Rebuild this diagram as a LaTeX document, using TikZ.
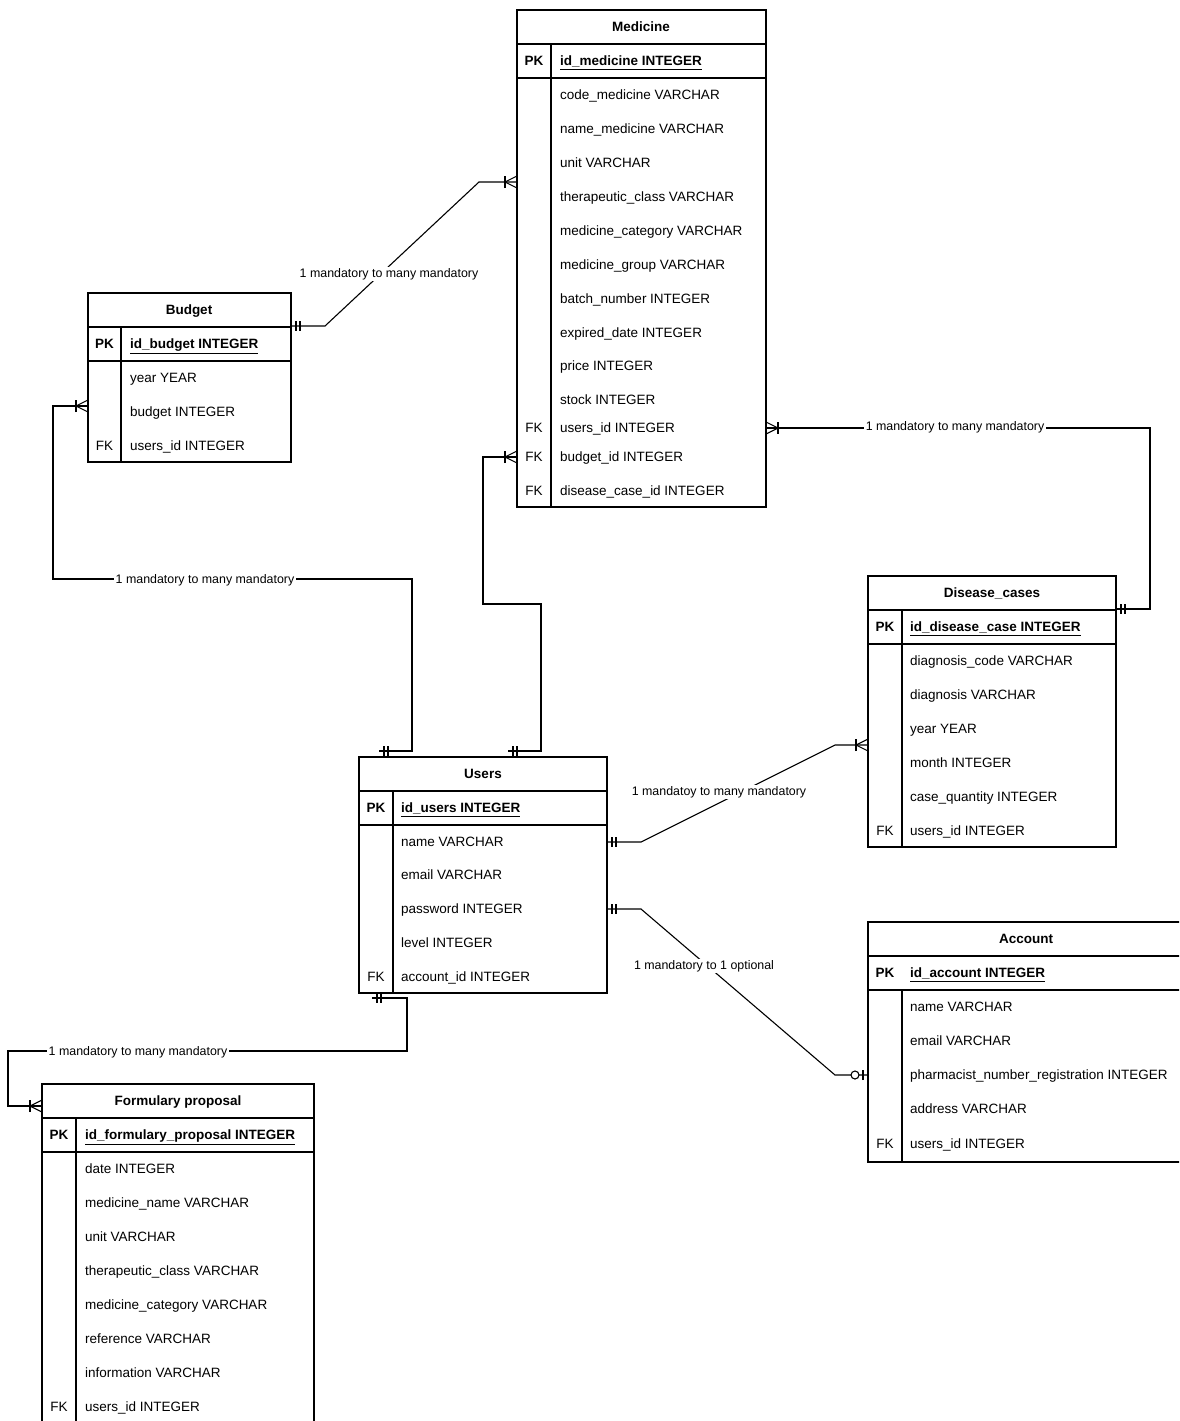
\documentclass[tikz,border=0pt]{standalone}
\usepackage{fontspec}
\setmainfont{Liberation Sans}
\usetikzlibrary{calc}
\begin{document}
\begin{tikzpicture}[x=1pt,y=-1pt,
  tbl/.style={draw, line width=1.2pt, anchor=north west, inner sep=0pt, outer sep=0pt},
  sepl/.style={line width=1.2pt},
  txt/.style={anchor=west, inner sep=0pt, text height=9.7pt, text depth=0pt, font=\fontsize{13.5}{16}\selectfont},
  ttl/.style={anchor=center, inner sep=0pt, text height=9.7pt, text depth=0pt, font=\fontsize{13.5}{16}\selectfont\bfseries},
  keyt/.style={anchor=center, inner sep=0pt, text height=9.7pt, text depth=0pt, font=\fontsize{13.5}{16}\selectfont},
  lbl/.style={fill=white, inner sep=1.5pt, font=\fontsize{12.4}{14}\selectfont},
  conn/.style={line width=1.1pt},
  crow/.pic={\draw[conn] (0,-6) -- (12,0) -- (0,6); \draw[conn] (12,-6) -- (12,6);},
  onem/.pic={\draw[conn] (5,-5) -- (5,5) (9,-5) -- (9,5);},
  zone/.pic={\draw[conn] (5,-5) -- (5,5); \draw[conn,fill=white] (13,0) circle[radius=4pt];}
]
\fill[white] (0,0) rectangle (1179,1421);
\useasboundingbox (0,0) rectangle (1179,1421);
\clip (0,0) rectangle (1179,1421);

% ---------- Medicine ----------
\node[tbl, minimum width=249pt, minimum height=497pt] (med) at (517,10) {};
\draw[sepl] (med.west |- 0,44) -- (med.east |- 0,44);
\draw[sepl] (med.west |- 0,78) -- (med.east |- 0,78);
\draw[sepl] (551,44) -- (med.south -| 551,0);
\node[ttl] (medt) at (641,27) {Medicine};
\node[ttl] (medpk) at (534,61) {PK};
\node[txt,font=\fontsize{13.5}{16}\selectfont\bfseries] (medpkn) at (560,61) {\underline{id\_medicine INTEGER}};
\foreach \yy/\tx [count=\i] in {95/code\_medicine VARCHAR, 129/name\_medicine VARCHAR, 163/unit VARCHAR, 197/therapeutic\_class VARCHAR, 231/medicine\_category VARCHAR, 265/medicine\_group VARCHAR, 299/batch\_number INTEGER, 333/expired\_date INTEGER, 366/price INTEGER, 400/stock INTEGER, 428/users\_id INTEGER, 457/budget\_id INTEGER, 491/disease\_case\_id INTEGER}
  \node[txt] (meda\i) at (560,\yy) {\tx};
\node[keyt] (medfk1) at (534,428) {FK};
\node[keyt] (medfk2) at (534,457) {FK};
\node[keyt] (medfk3) at (534,491) {FK};

% ---------- Budget ----------
\node[tbl, minimum width=203pt, minimum height=169pt] (bud) at (88,293) {};
\draw[sepl] (bud.west |- 0,327) -- (bud.east |- 0,327);
\draw[sepl] (bud.west |- 0,361) -- (bud.east |- 0,361);
\draw[sepl] (121,327) -- (bud.south -| 121,0);
\node[ttl] (budt) at (189,310) {Budget};
\node[ttl] (budpk) at (104.5,344) {PK};
\node[txt,font=\fontsize{13.5}{16}\selectfont\bfseries] (budpkn) at (130,344) {\underline{id\_budget INTEGER}};
\foreach \yy/\tx [count=\i] in {378/year YEAR, 412/budget INTEGER, 446/users\_id INTEGER}
  \node[txt] (buda\i) at (130,\yy) {\tx};
\node[keyt] (budfk) at (104.5,446) {FK};

% ---------- Users ----------
\node[tbl, minimum width=248pt, minimum height=236pt] (usr) at (359,757) {};
\draw[sepl] (usr.west |- 0,791) -- (usr.east |- 0,791);
\draw[sepl] (usr.west |- 0,825) -- (usr.east |- 0,825);
\draw[sepl] (393,791) -- (usr.south -| 393,0);
\node[ttl] (usrt) at (483,774) {Users};
\node[ttl] (usrpk) at (376,808) {PK};
\node[txt,font=\fontsize{13.5}{16}\selectfont\bfseries] (usrpkn) at (401,808) {\underline{id\_users INTEGER}};
\foreach \yy/\tx [count=\i] in {842/name VARCHAR, 875/email VARCHAR, 909/password INTEGER, 943/level INTEGER, 977/account\_id INTEGER}
  \node[txt] (usra\i) at (401,\yy) {\tx};
\node[keyt] (usrfk) at (376,977) {FK};

% ---------- Disease_cases ----------
\node[tbl, minimum width=248pt, minimum height=271pt] (dis) at (868,576) {};
\draw[sepl] (dis.west |- 0,610) -- (dis.east |- 0,610);
\draw[sepl] (dis.west |- 0,644) -- (dis.east |- 0,644);
\draw[sepl] (902,610) -- (dis.south -| 902,0);
\node[ttl] (dist) at (992,593) {Disease\_cases};
\node[ttl] (dispk) at (885,627) {PK};
\node[txt,font=\fontsize{13.5}{16}\selectfont\bfseries] (dispkn) at (910,627) {\underline{id\_disease\_case INTEGER}};
\foreach \yy/\tx [count=\i] in {661/diagnosis\_code VARCHAR, 695/diagnosis VARCHAR, 729/year YEAR, 763/month INTEGER, 797/case\_quantity INTEGER, 831/users\_id INTEGER}
  \node[txt] (disa\i) at (910,\yy) {\tx};
\node[keyt] (disfk) at (885,831) {FK};

% ---------- Account ----------
\node[tbl, minimum width=330pt, minimum height=240pt] (acc) at (868,922) {};
\draw[sepl] (acc.west |- 0,956) -- (acc.east |- 0,956);
\draw[sepl] (acc.west |- 0,990) -- (acc.east |- 0,990);
\draw[sepl] (902,990) -- (acc.south -| 902,0);
\node[ttl] (acct) at (1026,939) {Account};
\node[ttl] (accpk) at (885,973) {PK};
\node[txt,font=\fontsize{13.5}{16}\selectfont\bfseries] (accpkn) at (910,973) {\underline{id\_account INTEGER}};
\foreach \yy/\tx [count=\i] in {1007/name VARCHAR, 1041/email VARCHAR, 1075/pharmacist\_number\_registration INTEGER, 1109/address VARCHAR, 1144/users\_id INTEGER}
  \node[txt] (acca\i) at (910,\yy) {\tx};
\node[keyt] (accfk) at (885,1144) {FK};

% ---------- Formulary proposal ----------
\node[tbl, minimum width=272pt, minimum height=350pt] (frm) at (42,1084) {};
\draw[sepl] (frm.west |- 0,1118) -- (frm.east |- 0,1118);
\draw[sepl] (frm.west |- 0,1152) -- (frm.east |- 0,1152);
\draw[sepl] (76,1118) -- (frm.south -| 76,0);
\node[ttl] (frmt) at (178,1101) {Formulary proposal};
\node[ttl] (frmpk) at (59,1135) {PK};
\node[txt,font=\fontsize{13.5}{16}\selectfont\bfseries] (frmpkn) at (85,1135) {\underline{id\_formulary\_proposal INTEGER}};
\foreach \yy/\tx [count=\i] in {1169/date INTEGER, 1203/medicine\_name VARCHAR, 1237/unit VARCHAR, 1271/therapeutic\_class VARCHAR, 1305/medicine\_category VARCHAR, 1339/reference VARCHAR, 1373/information VARCHAR, 1407/users\_id INTEGER}
  \node[txt] (frma\i) at (85,\yy) {\tx};
\node[keyt] (frmfk) at (59,1407) {FK};

% ---------- connectors ----------
\coordinate (uTopA) at ($(usr.north west)+(20,-6)$);
\coordinate (uTopB) at ($(usr.north west)+(149,-6)$);
\coordinate (uBot) at ($(usr.south west)+(13,5)$);

% Budget -> Medicine
\draw[conn] (bud.east |- 0,326) -- ++(34,0) -- (479,182) -- (med.west |- 0,182);
\pic at (bud.east |- 0,326) {onem};
\pic[rotate=180] at (med.west |- 0,182) {crow};
\node[lbl] (l1) at (389,274) {1 mandatory to many mandatory};

% Users -> Budget
\draw[conn] (uTopA) -- (412,751) -- (412,579) -- (53,579) -- (53,406) -- (bud.west |- 0,406);
\pic at (uTopA) {onem};
\pic[rotate=180] at (bud.west |- 0,406) {crow};
\node[lbl] (l2) at (205,580) {1 mandatory to many mandatory};

% Users -> Medicine
\draw[conn] (uTopB) -- (541,751) -- (541,604) -- (483,604) -- (483,457) -- (med.west |- 0,457);
\pic at (uTopB) {onem};
\pic[rotate=180] at (med.west |- 0,457) {crow};

% Disease_cases -> Medicine
\draw[conn] (dis.east |- 0,609) -- (1150,609) -- (1150,428) -- (med.east |- 0,428);
\pic at (dis.east |- 0,609) {onem};
\pic at (med.east |- 0,428) {crow};
\node[lbl] (l3) at (955,427) {1 mandatory to many mandatory};

% Users -> Disease_cases
\draw[conn] (usr.east |- 0,842) -- (641,842) -- (835,745) -- (dis.west |- 0,745);
\pic at (usr.east |- 0,842) {onem};
\pic[rotate=180] at (dis.west |- 0,745) {crow};
\node[lbl] (l4) at (719,792) {1 mandatoy to many mandatory};

% Users -> Account
\draw[conn] (usr.east |- 0,909) -- (641,909) -- (835,1075) -- (acc.west |- 0,1075);
\pic at (usr.east |- 0,909) {onem};
\pic[rotate=180] at (acc.west |- 0,1075) {zone};
\node[lbl] (l5) at (704,966) {1 mandatory to 1 optional};

% Users -> Formulary proposal
\draw[conn] (uBot) -- (407,998) -- (407,1051) -- (8,1051) -- (8,1106) -- (frm.west |- 0,1106);
\pic at (uBot) {onem};
\pic[rotate=180] at (frm.west |- 0,1106) {crow};
\node[lbl] (l6) at (138,1052) {1 mandatory to many mandatory};
\end{tikzpicture}
\end{document}
